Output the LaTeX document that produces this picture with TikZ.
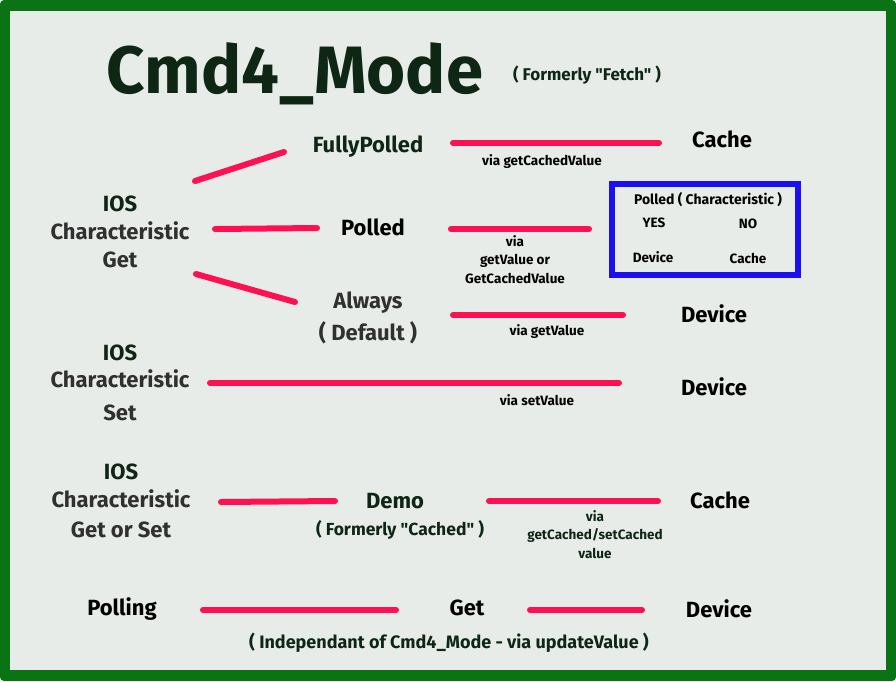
\documentclass[tikz,border=0pt]{standalone}
\usepackage{fontspec}
\setmainfont{Fira Sans}[Ligatures=TeXOff]
\usetikzlibrary{positioning}
\definecolor{xgreen}{HTML}{0A7414}
\definecolor{xpaper}{HTML}{E8ECE8}
\definecolor{xred}{HTML}{FF1050}
\definecolor{xblue}{HTML}{1C10F2}
\definecolor{xink}{HTML}{0E2614}
\definecolor{xgrey}{HTML}{303030}

\begin{document}
\begin{tikzpicture}[
    x=1pt, y=-1pt,
    bigtext/.style={font=\fontsize{22}{28}\selectfont\bfseries, text=#1, inner sep=0pt, anchor=base, align=center},
    bigtext/.default=black,
    smalltext/.style={font=\fontsize{13.5}{18.5}\selectfont\bfseries, text=#1, inner sep=0pt, anchor=base, align=center},
    smalltext/.default=black,
    wire/.style={draw=xred, line width=6pt, line cap=round},
]

% Frame
\fill[xgreen, rounded corners=4pt] (0,0) rectangle (896,681);
\fill[xpaper] (10,11) rectangle (886,670);

% Title
\node[font=\fontsize{67}{70}\selectfont\bfseries, text=xink, inner sep=0pt, anchor=base] (title) at (295,93) {Cmd4\_Mode};
\node[smalltext=xink, font=\fontsize{17}{20}\selectfont\bfseries] (fetch) at (587,80) {( Formerly "Fetch" )};

% IOS get and its modes (multi-line nodes sit on their last line)
\node[bigtext=xgrey] (iosget) at (120,267) {\textcolor{xink}{IOS}\\Characteristic\\Get};
\node[bigtext=xink] (fully) at (368,152) {FullyPolled};
\node[bigtext] (polled) at (373,235) {Polled};
\node[bigtext=xgrey] (always) at (368,340) {Always\\[4pt]( Default )};

% Targets of the modes
\node[bigtext] (cacheA) at (722,147) {Cache};
\node[bigtext] (deviceA) at (714,322) {Device};
\node[smalltext] (viaA) at (542,165) {via getCachedValue};
\node[smalltext] (viaB) at (515,283) {via\\getValue or\\GetCachedValue};
\node[smalltext] (viaC) at (547,335) {via getValue};

% Polled box
\node[draw=xblue, line width=6pt, minimum width=186pt, minimum height=91pt, inner sep=0pt] (pollbox) at (705,229.5) {};
\node[smalltext, font=\fontsize{14}{18}\selectfont\bfseries] (boxhead) at (708,204) {Polled ( Characteristic )};
\node[smalltext] (yes) at (654,227) {YES};
\node[smalltext] (no) at (748,228) {NO};
\node[smalltext] (boxdev) at (653,262) {Device};
\node[smalltext] (boxcache) at (748,263) {Cache};

% IOS set
\node[bigtext=xgrey, font=\fontsize{22}{27}\selectfont\bfseries] (iosset) at (120,420) {\textcolor{xink}{IOS}\\Characteristic\\[6pt]Set};
\node[bigtext] (deviceB) at (714,395) {Device};
\node[smalltext] (viaD) at (537,405) {via setValue};

% IOS get or set
\node[bigtext=xgrey] (iosany) at (121,537) {\textcolor{xink}{IOS}\\Characteristic\\[2pt]Get or Set};
\node[bigtext=xink] (demo) at (395,508) {Demo};
\node[smalltext=xink, font=\fontsize{17.5}{20}\selectfont\bfseries] (cached) at (400,535) {( Formerly "Cached" )};
\node[bigtext] (cacheB) at (720,508) {Cache};
\node[smalltext=xink] (viaE) at (595,558) {via\\getCached/setCached\\value};

% Polling
\node[bigtext] (polling) at (122,615) {Polling};
\node[bigtext] (get) at (467,615) {Get};
\node[bigtext] (deviceC) at (719,617) {Device};
\node[smalltext=xink, font=\fontsize{18}{20}\selectfont\bfseries] (indep) at (449,648) {( Independant of Cmd4\_Mode - via updateValue )};

% Wire ends
\coordinate (w1a) at (195,181);  \coordinate (w1b) at (284,152);
\coordinate (w2a) at (215,229);  \coordinate (w2b) at (317,228);
\coordinate (w3a) at (196,274);  \coordinate (w3b) at (295,302);
\coordinate (w4a) at (453,143);  \coordinate (w4b) at (659,143);
\coordinate (w5a) at (451,229);  \coordinate (w5b) at (589,229);
\coordinate (w6a) at (453,315);  \coordinate (w6b) at (623,315);
\coordinate (w7a) at (210,383);  \coordinate (w7b) at (619,383);
\coordinate (w8a) at (221,502);  \coordinate (w8b) at (335,501);
\coordinate (w9a) at (489,501);  \coordinate (w9b) at (658,501);
\coordinate (w10a) at (203,610); \coordinate (w10b) at (396,610);
\coordinate (w11a) at (530,610); \coordinate (w11b) at (642,610);

% Wires
\foreach \w in {w1,w2,w3,w4,w5,w6,w7,w8,w9,w10,w11}
  \draw[wire] (\w a) -- (\w b);

\end{tikzpicture}
\end{document}
